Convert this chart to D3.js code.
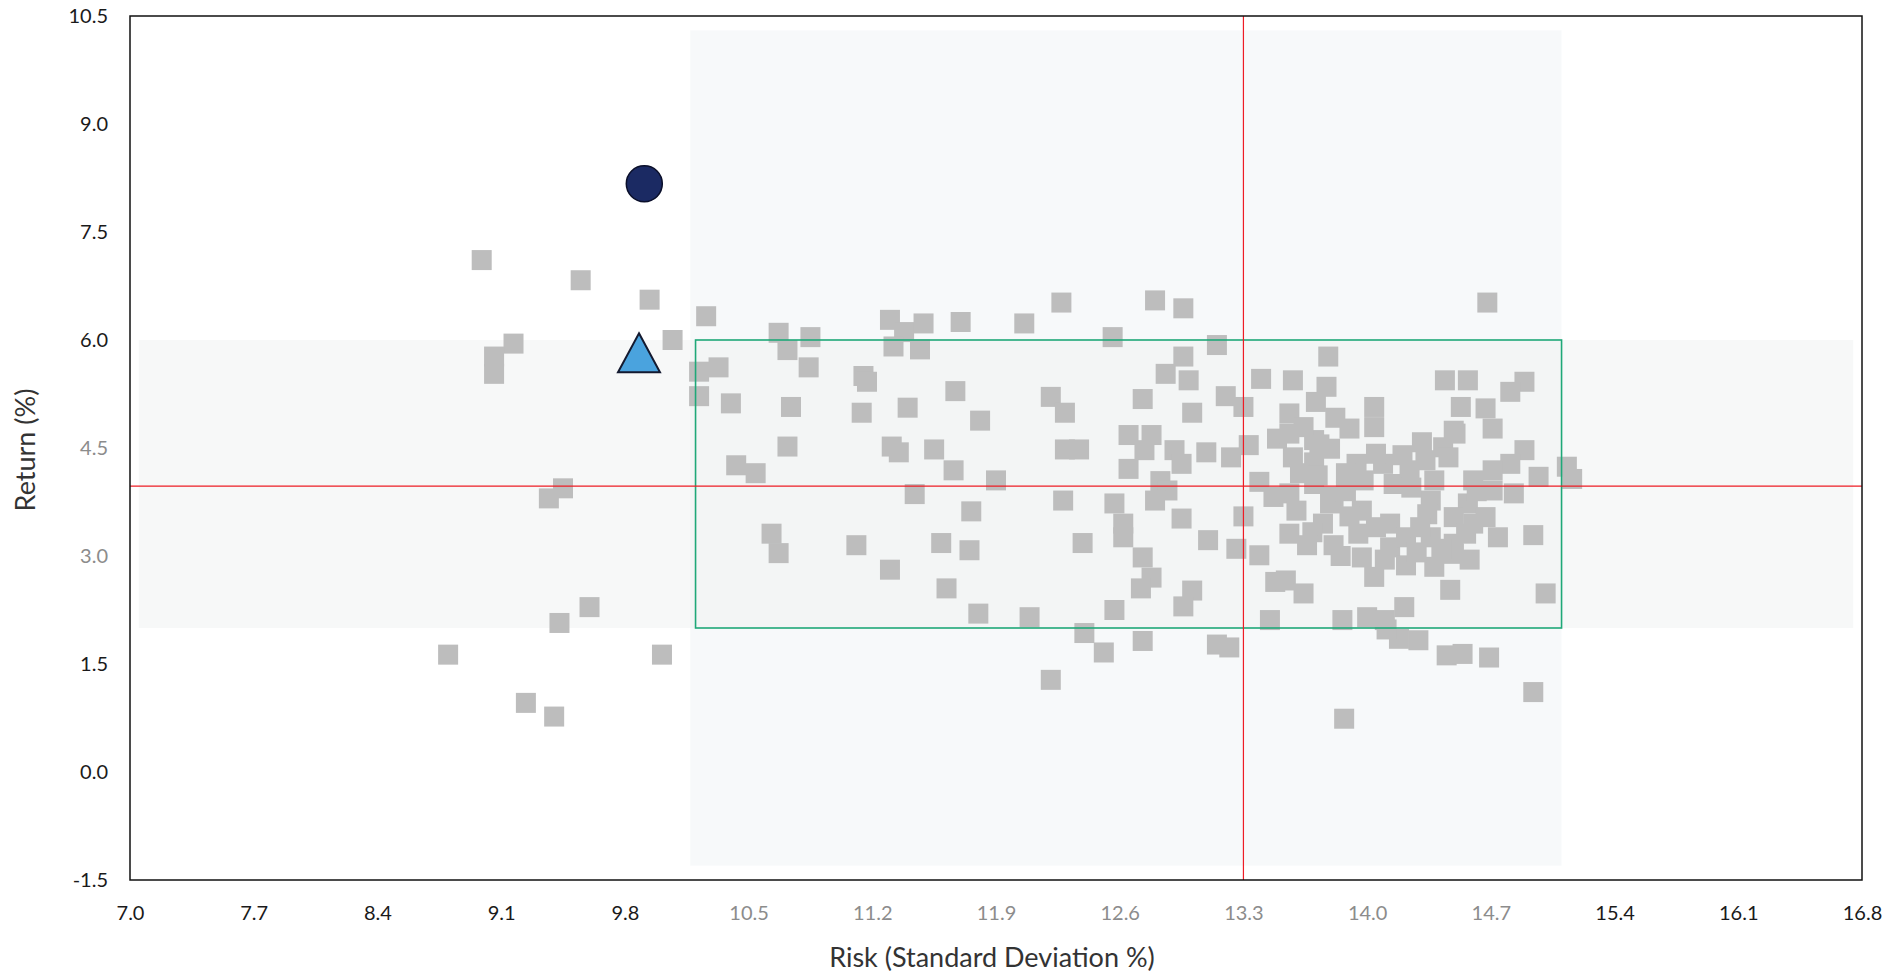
<!DOCTYPE html>
<html><head><meta charset="utf-8">
<script src="https://cdn.jsdelivr.net/npm/d3@7/dist/d3.min.js"></script>
<style>
html,body{margin:0;padding:0;background:#fff;}
svg{display:block;font-family:"Lato","Open Sans",sans-serif;}
</style></head>
<body>
<svg id="chart" width="1902" height="976"></svg>
<script>
// ---- data ----
const riskValues = [
8.99,9.55,9.94,9.17,9.06,9.06,10.07,9.37,9.45,9.60,9.43,8.80,10.01,9.24,9.40,
10.26,10.67,10.85,10.72,10.84,10.22,10.33,10.22,10.40,10.74,11.15,11.17,11.14,11.40,11.67,11.81,11.30,11.38,11.49,11.47,11.32,11.70,10.72,10.43,10.54,11.31,11.35,11.55,11.66,11.44,11.76,
10.63,10.67,11.11,11.30,11.59,11.75,11.62,11.80,
12.27,12.06,12.56,12.80,12.96,13.15,12.96,12.86,12.99,12.21,12.29,12.73,13.01,13.20,13.30,13.40,12.29,12.37,12.65,12.78,12.74,12.65,12.91,12.95,13.09,13.23,13.33,12.83,12.87,11.90,12.28,12.57,12.80,13.39,13.47,13.49,
12.62,12.62,12.95,12.39,13.10,13.30,13.26,13.39,12.73,12.78,12.72,13.01,12.96,12.57,12.09,12.40,12.51,12.73,13.15,13.22,12.21,13.45,13.48,
14.68,13.78,13.58,13.77,13.71,14.44,14.57,14.89,14.81,14.53,14.67,14.71,14.49,14.04,14.04,13.82,13.90,13.56,13.56,13.70,13.79,13.58,13.70,14.31,14.43,14.50,14.33,14.46,14.89,14.81,14.71,14.97,15.13,15.16,13.94,14.09,14.24,13.98,14.15,13.70,13.56,13.81,14.71,14.83,14.36,14.57,
13.79,13.60,13.75,13.56,13.69,13.81,13.97,13.95,13.97,14.04,14.13,14.13,14.22,14.22,14.34,14.36,14.38,14.49,14.49,14.49,14.56,14.67,14.74,14.94,14.47,15.01,13.54,13.64,13.86,14.00,14.10,14.21,14.18,14.29,14.45,14.54,14.69,14.94,13.87,14.11,
13.64,13.73,13.62,13.88,14.05,14.20,14.38,14.60,14.62,14.25,13.90,14.05,14.30,14.42,14.60,14.10,13.66,13.85,14.28,14.58,13.72,13.88
];
const returnValues = [
7.11,6.83,6.56,5.95,5.77,5.53,6.00,3.80,3.94,2.29,2.07,1.63,1.63,0.96,0.77,
6.33,6.10,6.04,5.86,5.62,5.56,5.62,5.22,5.12,5.07,5.50,5.42,4.99,5.06,5.29,4.88,6.28,6.11,6.23,5.87,5.91,6.25,4.52,4.26,4.15,4.52,4.44,4.48,4.19,3.86,3.62,
3.31,3.04,3.15,2.81,3.18,3.08,2.55,2.20,
6.52,6.23,6.04,6.55,6.44,5.93,5.77,5.53,5.44,5.21,4.99,5.18,4.99,5.22,5.07,5.46,4.48,4.48,4.68,4.68,4.47,4.21,4.47,4.28,4.44,4.37,4.54,4.04,3.91,4.05,3.77,3.73,3.77,4.03,3.82,4.63,
3.45,3.26,3.52,3.18,3.22,3.55,3.10,3.01,2.98,2.70,2.55,2.52,2.30,2.25,2.15,1.93,1.66,1.82,1.77,1.73,1.28,2.11,2.64,
6.52,5.77,5.44,5.35,5.14,5.44,5.44,5.42,5.28,5.07,5.05,4.77,4.74,5.07,4.79,4.92,4.77,4.98,4.70,4.61,4.49,4.37,4.30,4.58,4.51,4.70,4.33,4.37,4.47,4.28,4.19,4.10,4.24,4.07,4.28,4.28,4.19,4.05,4.00,4.00,3.87,3.82,3.91,3.87,3.77,3.73,
3.73,3.63,3.45,3.31,3.33,3.15,3.63,3.31,2.98,2.71,3.45,3.12,3.26,2.87,3.58,3.26,2.85,3.54,3.17,3.03,3.31,3.54,3.26,3.29,2.53,2.48,2.66,2.48,2.11,2.15,2.11,2.29,1.85,1.83,1.62,1.64,1.59,1.11,0.74,1.98,
4.79,4.55,4.15,4.15,4.42,4.40,4.05,4.05,3.90,3.95,3.55,3.40,3.40,3.10,3.45,2.95,3.15,3.00,3.05,2.95,4.12,3.90
];
const portfolioPoint = [9.91, 8.17];   // circle
const benchmarkPoint = [9.88, 5.76];   // triangle
const xTicks = [7.0,7.7,8.4,9.1,9.8,10.5,11.2,11.9,12.6,13.3,14.0,14.7,15.4,16.1,16.8];
const yTicks = [-1.5,0.0,1.5,3.0,4.5,6.0,7.5,9.0,10.5];
const xDomain = [7.0, 16.8];
const yDomain = [-1.5, 10.5];
const targetRisk = [10.2, 15.1];     // green box
const targetReturn = [2.0, 6.0];
const avgRisk = 13.3;                // red lines
const avgReturn = 3.97;
const xLabel = "Risk (Standard Deviation %)";
const yLabel = "Return (%)";

// ---- layout ----
const L = 130, R = 1862, T = 16, B = 880;
const svg = d3.select("#chart");
const x = d3.scaleLinear().domain(xDomain).range([L, R]);
const y = d3.scaleLinear().domain(yDomain).range([B, T]);
const fmt = d => d.toFixed(1);

// shaded bands
svg.append("rect").attr("x", x(10.17)).attr("width", x(15.1)-x(10.17))
  .attr("y", y(10.3)).attr("height", y(-1.3)-y(10.3))
  .attr("fill", "#eef1f3").attr("opacity", 0.45);
svg.append("rect").attr("x", x(7.05)).attr("width", x(16.75)-x(7.05))
  .attr("y", y(6.0)).attr("height", y(2.0)-y(6.0))
  .attr("fill", "#eef0f0").attr("opacity", 0.45);

// squares
const pts = riskValues.map((r,i)=>({r, v: returnValues[i]}));
const S = 20;
svg.append("g").selectAll("rect").data(pts).join("rect")
  .attr("x", d=>x(d.r)-S/2).attr("y", d=>y(d.v)-S/2)
  .attr("width", S).attr("height", S).attr("fill", "#bdbdbd");

// green target box
svg.append("rect").attr("x", x(targetRisk[0])).attr("y", y(targetReturn[1]))
  .attr("width", x(targetRisk[1])-x(targetRisk[0])).attr("height", y(targetReturn[0])-y(targetReturn[1]))
  .attr("fill","none").attr("stroke","#1fa878").attr("stroke-width",1.6);

// red average lines
svg.append("line").attr("x1", x(avgRisk)).attr("x2", x(avgRisk)).attr("y1", T).attr("y2", B)
  .attr("stroke","#ee1c25").attr("stroke-width",1.2);
svg.append("line").attr("x1", L).attr("x2", R).attr("y1", y(avgReturn)).attr("y2", y(avgReturn))
  .attr("stroke","#ee1c25").attr("stroke-width",1.2);

// circle
svg.append("circle").attr("cx", x(portfolioPoint[0])).attr("cy", y(portfolioPoint[1])).attr("r", 18)
  .attr("fill","#1b2a63").attr("stroke","#0a0f2a").attr("stroke-width",1.5);
// triangle
const tx = x(benchmarkPoint[0]), ty = y(benchmarkPoint[1]);
svg.append("path").attr("d", `M${tx},${ty-24} L${tx+21},${ty+15} L${tx-21},${ty+15} Z`)
  .attr("fill","#4aa3de").attr("stroke","#141a30").attr("stroke-width",2);

// frame
svg.append("rect").attr("x", L).attr("y", T).attr("width", R-L).attr("height", B-T)
  .attr("fill","none").attr("stroke","#111").attr("stroke-width",1.5);

// axes
const xAxis = d3.axisBottom(x).tickValues(xTicks).tickFormat(fmt).tickSize(0).tickPadding(26);
const gx = svg.append("g").attr("transform", `translate(0,${B})`).call(xAxis);
gx.select(".domain").remove();
gx.selectAll("text").attr("font-size", 20).attr("font-family","Lato, sans-serif")
  .attr("fill", d => (d>10.2 && d<15.1) ? "#8c8c8c" : "#1a1a1a");

const yAxis = d3.axisLeft(y).tickValues(yTicks).tickFormat(fmt).tickSize(0).tickPadding(22);
const gy = svg.append("g").attr("transform", `translate(${L},0)`).call(yAxis);
gy.select(".domain").remove();
gy.selectAll("text").attr("font-size", 20).attr("font-family","Lato, sans-serif")
  .attr("fill", d => (d>2.0 && d<6.0) ? "#8c8c8c" : "#1a1a1a");

svg.append("text").attr("x", (L+R)/2 - 4).attr("y", 967).attr("text-anchor","middle")
  .attr("font-size", 27).attr("fill","#333").text(xLabel);
svg.append("text").attr("transform", `translate(35,${(T+B)/2 + 2}) rotate(-90)`).attr("text-anchor","middle")
  .attr("font-size", 27).attr("fill","#333").text(yLabel);
</script>
</body></html>
